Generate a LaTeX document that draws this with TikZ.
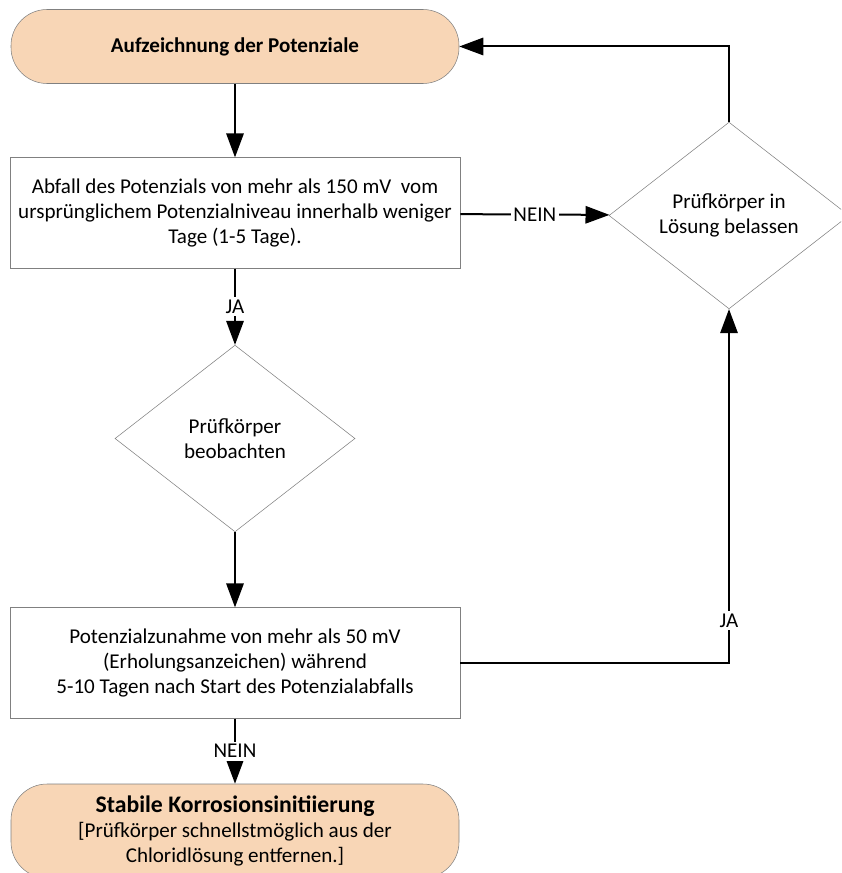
\documentclass[tikz,border=0pt]{standalone}
\usepackage{fontspec}
\setmainfont{Carlito}
\usetikzlibrary{shapes.geometric,arrows.meta}
\definecolor{peach}{RGB}{248,214,182}
\definecolor{rim}{RGB}{128,128,128}

\begin{document}
\begin{tikzpicture}[x=0.75pt,y=0.75pt,yscale=-1,xscale=1,
  every node/.style={font=\fontsize{15.8}{19}\selectfont, align=center},
  terminal/.style={draw=rim, fill=peach, rectangle, rounded corners=27pt,
    minimum width=336pt, minimum height=55.5pt, inner sep=2pt},
  stepbox/.style={draw=rim, fill=white, rectangle,
    minimum width=337.5pt, minimum height=83pt, inner sep=2pt},
  choice/.style={draw=rim, fill=white, diamond,
    minimum width=180pt, minimum height=140pt, inner sep=0pt},
  flow/.style={line width=1.5pt, -{Triangle[length=18pt,width=13pt]}},
  tag/.style={fill=white, inner sep=2pt}]
\clip (0,0) rectangle (841,873);
% shapes
\node [terminal] (start) at (235,46.5) {\bfseries Aufzeichnung der Potenziale};
\node [stepbox] (drop) at (235,213) {Abfall des Potenzials von mehr als 150 mV\ \ vom\\ursprünglichem Potenzialniveau innerhalb weniger\\Tage (1-5 Tage).};
\node [choice] (keep) at (729,215.5) {Prüfkörper in\\Lösung belassen};
\node [choice] (watch) at (235,438.5) {Prüfkörper\\beobachten};
\node [stepbox] (rise) at (235,663) {Potenzialzunahme von mehr als 50 mV\\(Erholungsanzeichen) während\\5-10 Tagen nach Start des Potenzialabfalls};
\node [terminal, minimum height=70.5pt] (stop) at (235,831) {{\fontsize{17.8}{20}\selectfont\bfseries Stabile Korrosionsinitiierung}\\{}[Prüfkörper schnellstmöglich aus der\\Chloridlösung entfernen.]};
% connectors
\draw [flow] (start) -- (drop);
\draw [flow] (drop) -- node [tag] {NEIN} (keep);
\draw [flow] (keep.north) |- (start.east);
\draw [flow] (drop) -- node [tag] {JA} (watch);
\draw [flow] (watch) -- (rise);
\draw [flow] (rise.east) -| node [tag, pos=0.56] {JA} (keep.south);
\draw [flow] (rise) -- node [tag] {NEIN} (stop);
\end{tikzpicture}
\end{document}
